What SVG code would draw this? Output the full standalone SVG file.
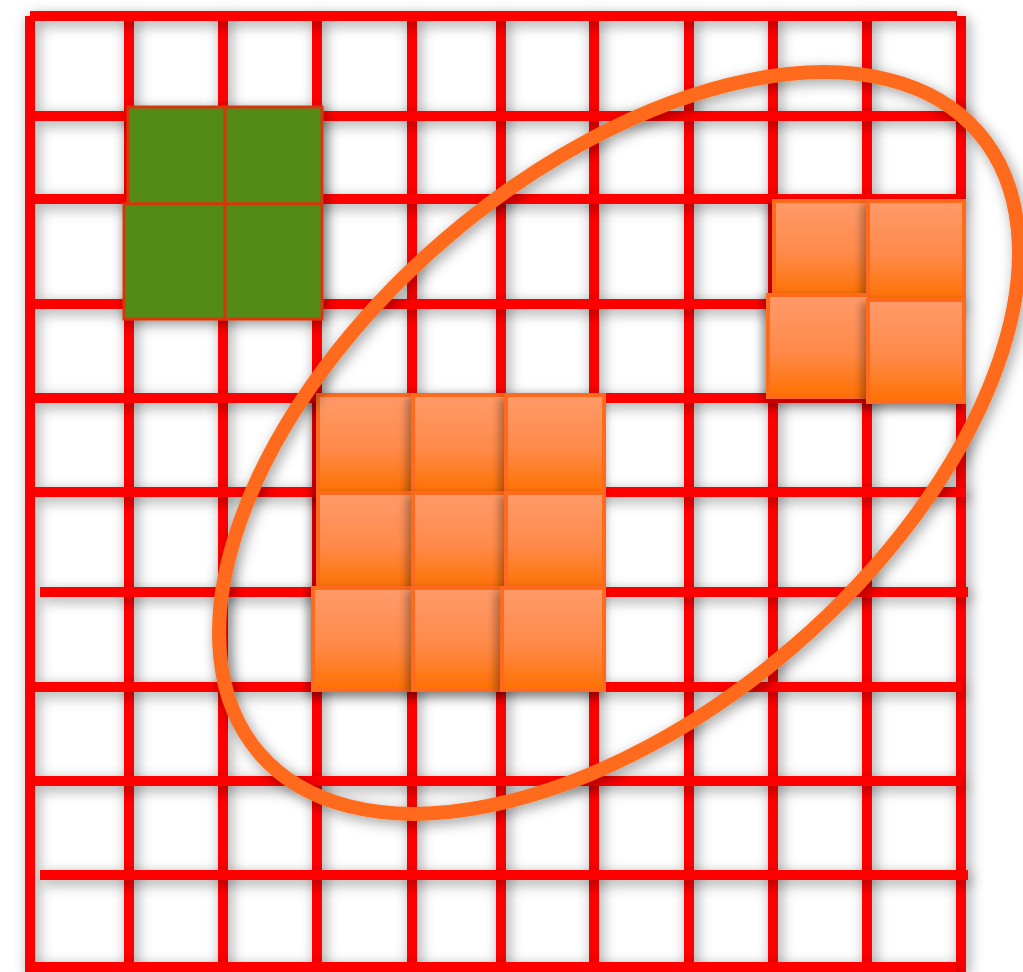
<svg xmlns="http://www.w3.org/2000/svg" width="1023" height="972" viewBox="0 0 1023 972">
<defs>
<filter id="sh" filterUnits="userSpaceOnUse" x="-50" y="-50" width="1123" height="1072">
<feDropShadow dx="3" dy="4" stdDeviation="7" flood-color="#000" flood-opacity="0.38"/>
</filter>
<filter id="shq" filterUnits="userSpaceOnUse" x="-50" y="-50" width="1123" height="1072">
<feDropShadow dx="-4" dy="4" stdDeviation="5" flood-color="#000" flood-opacity="0.35"/>
</filter>
<linearGradient id="og" x1="0" y1="0" x2="0" y2="1">
<stop offset="0" stop-color="#FF9A6A"/>
<stop offset="0.55" stop-color="#FF8A4A"/>
<stop offset="1" stop-color="#FF7000"/>
</linearGradient>
</defs>
<style>
.v{stroke:#FF0000;stroke-width:10;fill:none}
.h{stroke:#FF0000;stroke-width:10;fill:none}
.g{fill:#538B19;stroke:#D9360C;stroke-width:3}
.o{fill:url(#og);stroke:#FF6A1A;stroke-width:4}
</style>
<rect width="1023" height="972" fill="#fff"/>
<g id="grid">
<g id="verticals" filter="url(#sh)">
<line class="v" x1="30" y1="16" x2="30" y2="972"/>
<line class="v" x1="129" y1="16" x2="129" y2="972"/>
<line class="v" x1="223" y1="16" x2="223" y2="972"/>
<line class="v" x1="317" y1="16" x2="317" y2="972"/>
<line class="v" x1="412" y1="16" x2="412" y2="972"/>
<line class="v" x1="501" y1="16" x2="501" y2="972"/>
<line class="v" x1="594" y1="16" x2="594" y2="972"/>
<line class="v" x1="689" y1="16" x2="689" y2="972"/>
<line class="v" x1="773" y1="16" x2="773" y2="972"/>
<line class="v" x1="867" y1="16" x2="867" y2="972"/>
<line class="v" x1="961" y1="16" x2="961" y2="972"/>
</g>
<g id="horizontals" filter="url(#sh)">
<line class="h" x1="30" y1="16" x2="957" y2="16"/>
<line class="h" x1="35" y1="116" x2="961" y2="116"/>
<line class="h" x1="35" y1="199" x2="961" y2="199"/>
<line class="h" x1="35" y1="304" x2="961" y2="304"/>
<line class="h" x1="35" y1="398" x2="961" y2="398"/>
<line class="h" x1="35" y1="492" x2="966" y2="492"/>
<line class="h" x1="40" y1="592" x2="968" y2="592"/>
<line class="h" x1="35" y1="687" x2="962" y2="687"/>
<line class="h" x1="35" y1="781" x2="961" y2="781"/>
<line class="h" x1="40" y1="875" x2="968" y2="875"/>
<line class="h" x1="29" y1="967" x2="956" y2="967"/>
</g>
</g>
<g id="green-block" filter="url(#sh)">
<rect class="g" x="128" y="107" width="97" height="97"/>
<rect class="g" x="225" y="107" width="97" height="97"/>
<rect class="g" x="124" y="204" width="101" height="115"/>
<rect class="g" x="225" y="204" width="97" height="115"/>
</g>
<g id="orange-block-3x3">
<rect class="o" filter="url(#shq)" x="318" y="395" width="95" height="98"/>
<rect class="o" filter="url(#shq)" x="413" y="395" width="93" height="98"/>
<rect class="o" filter="url(#shq)" x="506" y="395" width="98" height="98"/>
<rect class="o" filter="url(#shq)" x="318" y="493" width="95" height="96"/>
<rect class="o" filter="url(#shq)" x="413" y="493" width="93" height="96"/>
<rect class="o" filter="url(#shq)" x="506" y="493" width="98" height="96"/>
<rect class="o" filter="url(#shq)" x="313" y="588" width="100" height="102"/>
<rect class="o" filter="url(#shq)" x="413" y="588" width="89" height="102"/>
<rect class="o" filter="url(#shq)" x="502" y="588" width="102" height="102"/>
</g>
<g id="orange-block-2x2">
<rect class="o" filter="url(#shq)" x="774" y="201" width="94" height="95"/>
<rect class="o" filter="url(#shq)" x="868" y="201" width="96" height="99"/>
<rect class="o" filter="url(#shq)" x="768" y="295" width="101" height="102"/>
<rect class="o" filter="url(#shq)" x="868" y="300" width="96" height="102"/>
</g>
<g id="ellipse" filter="url(#sh)">
<ellipse cx="619" cy="443" rx="475" ry="268" transform="rotate(-40.8 619 443)" fill="none" stroke="#FF6A1A" stroke-width="14"/>
</g>
</svg>
